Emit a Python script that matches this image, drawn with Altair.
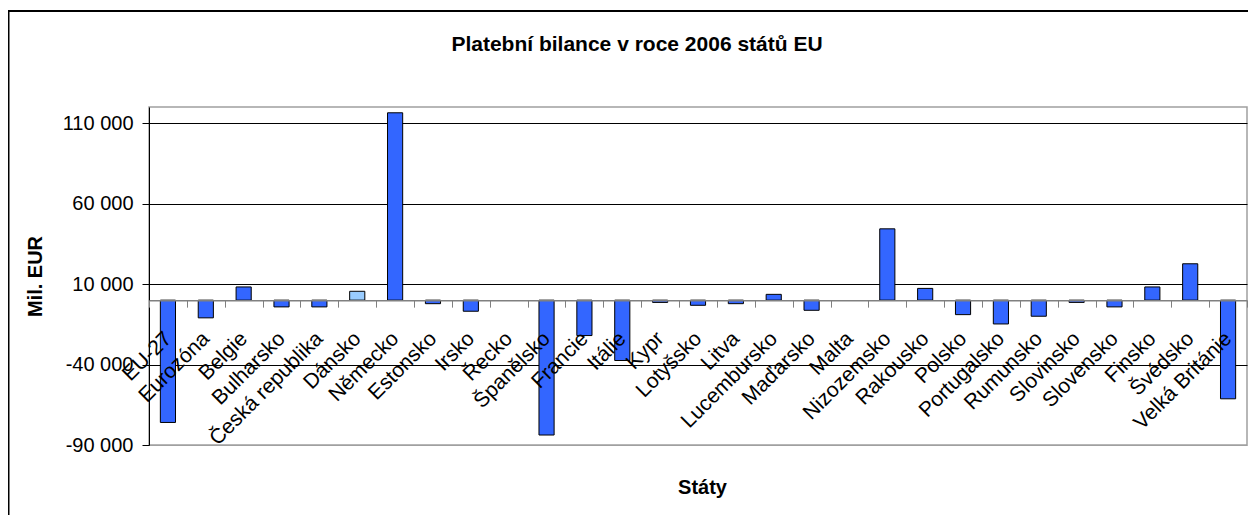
import altair as alt
import pandas as pd

# ---- data ----
countries = [
    "EU-27", "Eurozóna", "Belgie", "Bulharsko", "Česká republika", "Dánsko",
    "Německo", "Estonsko", "Irsko", "Řecko", "Španělsko", "Francie", "Itálie",
    "Kypr", "Lotyšsko", "Litva", "Lucembursko", "Maďarsko", "Malta",
    "Nizozemsko", "Rakousko", "Polsko", "Portugalsko", "Rumunsko", "Slovinsko",
    "Slovensko", "Finsko", "Švédsko", "Velká Británie",
]
values = [
    -76000, -11000, 8200, -4200, -4200, 5500,
    116400, -2200, -6900, None, -83800, -22000, -37500,
    -1400, -3200, -2200, 3600, -6300, None,
    44300, 7300, -9000, -14800, -10000, -1400,
    -4200, 8200, 22600, -61300,
]
y_ticks = [-90000, -40000, 10000, 60000, 110000]
y_domain = [-90000, 120000]

title_text = "Platební bilance v roce 2006 států EU"
y_title = "Mil. EUR"
x_title = "Státy"

# ---- layout ----
FONT = "Liberation Sans"
W, H = 1098, 338
PAD_L, PAD_T = 141, 99
TOTAL_W, TOTAL_H = 1240, 507
zero_y = H * (y_domain[1] - 0) / (y_domain[1] - y_domain[0])
x_axis_offset = -(H - zero_y)

df = pd.DataFrame({"stat": countries, "bilance": values})

bars = alt.Chart(df).mark_bar(
    width=alt.RelativeBandSize(0.4), stroke="black", strokeWidth=1
).encode(
    x=alt.X(
        "stat:N",
        sort=countries,
        scale=alt.Scale(paddingInner=0, paddingOuter=0),
        axis=alt.Axis(
            title=x_title,
            orient="bottom",
            offset=x_axis_offset,
            zindex=1,
            labelAngle=-45,
            labelAlign="right",
            labelBaseline="middle",
            labelPadding=28,
            labelOverlap=False,
            labelBound=False,
            labelFont=FONT,
            labelFontSize=21,
            labelColor="black",
            tickBand="extent",
            tickSize=7,
            tickColor="#808080",
            domainColor="#808080",
            domainWidth=1.5,
            grid=False,
            titleFont=FONT,
            titleFontSize=20,
            titleFontWeight="bold",
            titleColor="black",
            titleBaseline="middle",
            titleY=380 - zero_y,
            titleX=553,
        ),
    ),
    y=alt.Y(
        "bilance:Q",
        scale=alt.Scale(domain=y_domain, nice=False, zero=False),
        stack=None,
        axis=alt.Axis(
            title=y_title,
            values=y_ticks,
            grid=True,
            gridColor={"condition": {"test": "datum.value === -90000", "value": "#a0a0a0"}, "value": "black"},
            gridWidth=1,
            domainColor="black",
            tickColor="black",
            tickSize=7,
            labelPadding=9,
            labelFont=FONT,
            labelFontSize=20,
            labelColor="black",
            labelExpr="replace(replace(format(datum.value, ','), ',', ' '), '\u2212', '-')",
            titleFont=FONT,
            titleFontSize=20,
            titleFontWeight="bold",
            titleColor="black",
            titleAngle=-90,
            titleAlign="center",
            titleBaseline="middle",
            titleX=-114,
            titleY=H / 2,
        ),
    ),
    y2=alt.datum(0),
    color=alt.condition(alt.datum.stat == "Dánsko", alt.value("#99CCFF"), alt.value("#3366FF")),
)

frame_src = alt.Chart(pd.DataFrame({"k": [0]}))
top_border = frame_src.mark_rule(color="black", strokeWidth=2).encode(
    x=alt.value(-PAD_L), x2=alt.value(TOTAL_W - PAD_L), y=alt.value(-96)
)
left_border = frame_src.mark_rule(color="black", strokeWidth=1.5).encode(
    x=alt.value(-PAD_L + 0.75), y=alt.value(-96), y2=alt.value(TOTAL_H - PAD_T)
)
title_mark = frame_src.mark_text(
    text=title_text, font=FONT, fontSize=21, fontWeight="bold", color="black",
    align="center", baseline="middle",
).encode(x=alt.value(488), y=alt.value(-62))

chart = alt.layer(bars, top_border, left_border, title_mark).properties(
    width=W,
    height=H,
    autosize=alt.AutoSizeParams(type="none"),
    padding={"left": PAD_L, "top": PAD_T, "right": TOTAL_W - PAD_L - W, "bottom": TOTAL_H - PAD_T - H},
    background="white",
).configure_view(stroke="#a0a0a0", strokeWidth=1.5)

chart.save("out.html", embed_options={"renderer": "svg", "actions": False})
